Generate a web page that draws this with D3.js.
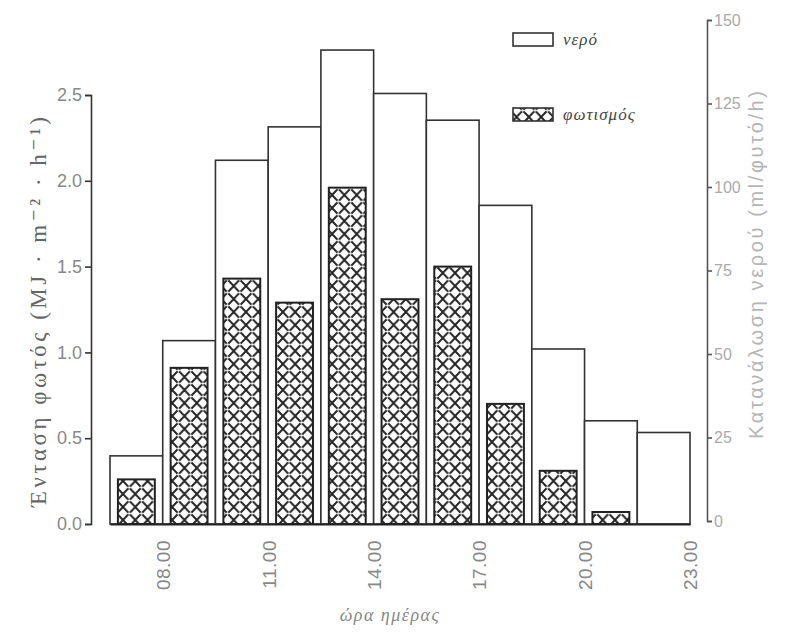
<!DOCTYPE html>
<html>
<head>
<meta charset="utf-8">
<script src="https://cdn.jsdelivr.net/npm/d3@7"></script>
<style>
  body { margin: 0; background: #fff; }
  svg { display: block; }
</style>
</head>
<body>
<div id="main"></div>
<script>
// start of each 1.5 h slot (hours of the day)
const slotStart = [6.5, 8, 9.5, 11, 12.5, 14, 15.5, 17, 18.5, 20, 21.5];
const slotLength = 1.5;
// water consumption, ml/plant/h (right axis)
const water = [19.5, 54, 108, 118, 141, 128, 120, 94.5, 51.5, 30, 26.5];
// light intensity, MJ m-2 h-1 (left axis)
const light = [0.26, 0.91, 1.43, 1.29, 1.96, 1.31, 1.50, 0.70, 0.31, 0.07, 0];

const hourTicks = [8, 11, 14, 17, 20, 23];
const leftTicks = [0, 0.5, 1.0, 1.5, 2.0, 2.5];
const rightTicks = [0, 25, 50, 75, 100, 125, 150];
const legendLabels = ['νερό', 'φωτισμός'];

const width = 789, height = 633;

const svg = d3.select('#main')
    .append('svg')
    .attr('width', width)
    .attr('height', height);

// cross-hatch pattern for the lighting bars
const pat = svg.append('defs')
    .append('pattern')
    .attr('id', 'hatch')
    .attr('patternUnits', 'userSpaceOnUse')
    .attr('width', 12.3)
    .attr('height', 13);
pat.append('rect').attr('width', 12.3).attr('height', 13).attr('fill', '#fff');
pat.append('path')
    .attr('d', 'M0,0 Q6,6.5 12.3,13 M12.3,0 Q6,6.5 0,13')
    .attr('stroke', '#262626')
    .attr('stroke-width', 2)
    .attr('fill', 'none');
pat.append('circle').attr('cx', 6.15).attr('cy', 6.5).attr('r', 1.2).attr('fill', '#fff');

const x = d3.scaleLinear().domain([6.5, 23]).range([110, 690]);
const yL = d3.scaleLinear().domain([0, 2.5]).range([524, 95]);
const yR = d3.scaleLinear().domain([0, 150]).range([521, 20]);

const slots = slotStart.map((s, i) => ({ s: s, water: water[i], light: light[i] }));

// water bars (wide, adjacent)
svg.append('g')
    .selectAll('rect')
    .data(slots)
    .join('rect')
    .attr('x', d => x(d.s))
    .attr('width', d => x(d.s + slotLength) - x(d.s))
    .attr('y', d => yR(d.water))
    .attr('height', d => yR(0) - yR(d.water) + 3)
    .attr('fill', '#fff')
    .attr('stroke', '#333')
    .attr('stroke-width', 1.6);

// lighting bars (narrow, hatched)
const inner = 0.7;
svg.append('g')
    .selectAll('rect')
    .data(slots.filter(d => d.light > 0))
    .join('rect')
    .attr('x', d => x(d.s + slotLength * (1 - inner) / 2))
    .attr('width', d => x(d.s + slotLength * inner) - x(d.s))
    .attr('y', d => yL(d.light))
    .attr('height', d => yL(0) - yL(d.light))
    .attr('fill', 'url(#hatch)')
    .attr('stroke', '#222')
    .attr('stroke-width', 2);

// x axis
const xAxis = svg.append('g')
    .attr('transform', `translate(0,${yL(0)})`)
    .call(d3.axisBottom(x).tickValues(hourTicks).tickSize(0).tickSizeOuter(0)
        .tickFormat(d => d3.format('02d')(d) + '.00'));
xAxis.select('.domain').attr('stroke', '#222').attr('stroke-width', 2);
xAxis.selectAll('text')
    .attr('transform', 'rotate(-90)')
    .attr('text-anchor', 'end')
    .attr('x', -16)
    .attr('y', 0)
    .attr('dy', '0.36em')
    .attr('fill', '#888')
    .style('font', '19px "Liberation Sans", Arial, sans-serif')
    .style('letter-spacing', '0.5px');

// left axis
const left = svg.append('g')
    .attr('transform', 'translate(91,0)')
    .call(d3.axisLeft(yL).tickValues(leftTicks).tickSize(6).tickFormat(d3.format('.1f')));
left.selectAll('path, line').attr('stroke', '#333').attr('stroke-width', 1.6);
left.selectAll('text')
    .attr('x', -9)
    .attr('fill', '#888')
    .style('font', '18px "Liberation Sans", Arial, sans-serif');

// right axis
const right = svg.append('g')
    .attr('transform', 'translate(707,0)')
    .call(d3.axisRight(yR).tickValues(rightTicks).tickSize(5));
right.selectAll('path, line').attr('stroke', '#555').attr('stroke-width', 1.6);
right.selectAll('text')
    .attr('x', 7)
    .attr('fill', '#aaa')
    .style('font', '16px "Liberation Sans", Arial, sans-serif');

// axis titles
svg.append('text')
    .attr('transform', 'translate(46,312) rotate(-90)')
    .attr('text-anchor', 'middle')
    .attr('fill', '#666')
    .attr('textLength', 390)
    .attr('lengthAdjust', 'spacing')
    .style('font', '23px "Liberation Serif", "DejaVu Serif", serif')
    .text('Ένταση φωτός (MJ · m⁻² · h⁻¹)');

svg.append('text')
    .attr('transform', 'translate(763,265) rotate(-90)')
    .attr('text-anchor', 'middle')
    .attr('fill', '#b5b5b5')
    .attr('textLength', 348)
    .attr('lengthAdjust', 'spacing')
    .style('font', '20px "Liberation Sans", Arial, sans-serif')
    .text('Κατανάλωση νερού (ml/φυτό/h)');

svg.append('text')
    .attr('x', 390)
    .attr('y', 621)
    .attr('text-anchor', 'middle')
    .attr('fill', '#888')
    .style('font', 'italic 18px "Liberation Serif", "DejaVu Serif", serif')
    .style('letter-spacing', '1.5px')
    .text('ώρα ημέρας');

// legend
const legend = svg.append('g');
const legendY = [33, 108];
legendLabels.forEach((lab, i) => {
    legend.append('rect')
        .attr('x', 513)
        .attr('y', legendY[i])
        .attr('width', 40)
        .attr('height', 13)
        .attr('fill', i === 0 ? '#fff' : 'url(#hatch)')
        .attr('stroke', '#333')
        .attr('stroke-width', 1.6);
    legend.append('text')
        .attr('x', 563)
        .attr('y', legendY[i] + 12)
        .attr('fill', '#444')
        .style('font', 'italic 17px "Liberation Serif", "DejaVu Serif", serif')
        .style('letter-spacing', '1px')
        .text(lab);
});
</script>
</body>
</html>
